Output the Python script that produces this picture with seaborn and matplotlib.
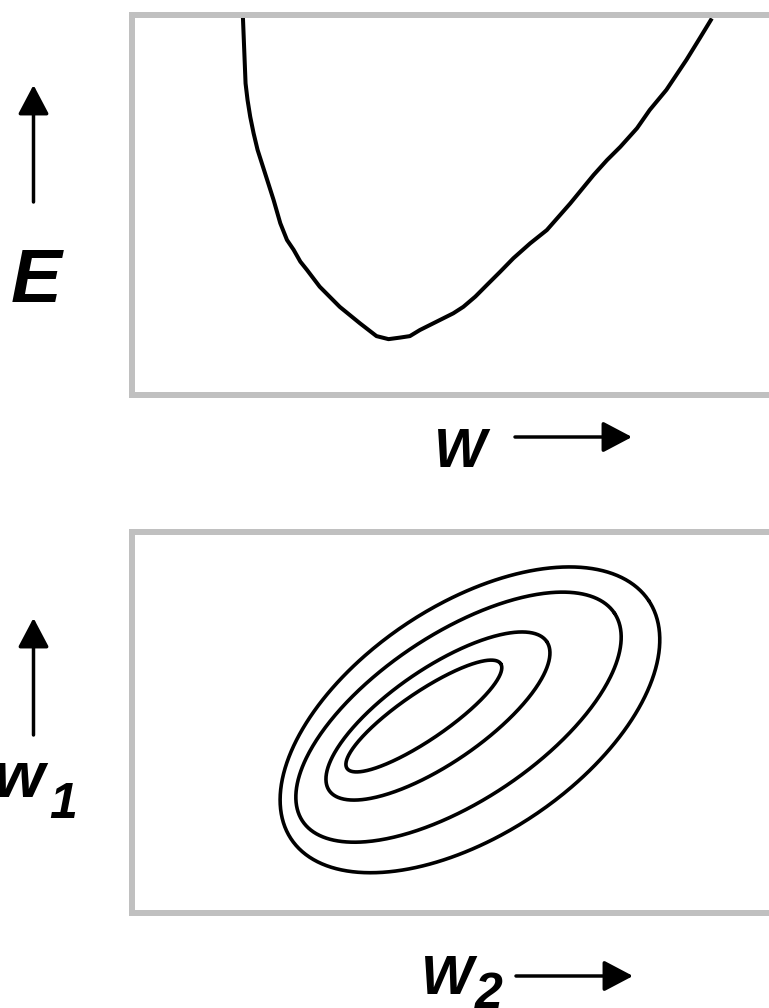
import numpy as np
import pandas as pd
import matplotlib
matplotlib.use("Agg")
import matplotlib.pyplot as plt
from matplotlib.patches import FancyArrowPatch
import seaborn as sns

# Error curve E(w)
w_vals = [1.66, 1.68, 1.70, 1.73, 1.77, 1.82, 1.88, 1.96, 2.04, 2.12,
          2.22, 2.32, 2.42, 2.52, 2.62, 2.81, 3.11, 3.41, 3.66, 3.84,
          4.01, 4.16, 4.31, 4.56, 4.81, 4.96, 5.14, 5.31, 5.51, 5.71,
          5.96, 6.21, 6.41, 6.56, 6.91, 7.11, 7.31, 7.56, 7.75, 8.00,
          8.30, 8.50, 8.68]
E_vals = [9.96, 9.08, 8.20, 7.76, 7.32, 6.89, 6.45, 6.01, 5.57, 5.13,
          4.52, 4.08, 3.82, 3.51, 3.29, 2.85, 2.32, 1.89, 1.55, 1.47,
          1.51, 1.55, 1.71, 1.93, 2.15, 2.32, 2.59, 2.89, 3.24, 3.60,
          3.99, 4.34, 4.74, 5.04, 5.79, 6.18, 6.53, 7.02, 7.50, 8.03,
          8.82, 9.39, 9.91]

# Error contours in the (w2, w1) plane: centre, semi-axes and tilt of each ring
ring_cx = [8.87, 8.57, 8.03, 7.66]
ring_cy = [5.07, 5.14, 5.17, 5.17]
ring_a = [5.64, 4.92, 3.46, 2.44]
ring_b = [3.02, 2.19, 1.24, 0.62]
ring_deg = [33.7, 33.7, 34.4, 34.3]

sns.set_theme(style="white")
plt.rcParams["font.family"] = ["Liberation Sans", "DejaVu Sans"]

W, H = 769, 1008
fig = plt.figure(figsize=(W / 100, H / 100), dpi=100)

def fx(px):
    return px / W

def fy(py):
    return 1 - py / H

frame_color = "#c0c0c0"
frame_lw = 4.3

def style_frame(ax):
    ax.set_xticks([])
    ax.set_yticks([])
    ax.set_xlabel("")
    ax.set_ylabel("")
    for s in ax.spines.values():
        s.set_visible(True)
        s.set_color(frame_color)
        s.set_linewidth(frame_lw)

# top panel: E versus w
ax1 = fig.add_axes([fx(132), fy(395), fx(800) - fx(132), fy(15) - fy(395)])
curve = pd.DataFrame({"w": w_vals, "E": E_vals})
sns.lineplot(data=curve, x="w", y="E", sort=False, estimator=None,
             color="black", linewidth=2.9, ax=ax1)
for ln in ax1.get_lines():
    ln.set_solid_joinstyle("round")
    ln.set_solid_capstyle("butt")
ax1.set_xlim(0, 10)
ax1.set_ylim(0, 10)
style_frame(ax1)

# bottom panel: elliptical contours
ax2 = fig.add_axes([fx(132), fy(913), fx(800) - fx(132), fy(532) - fy(913)])
t = np.linspace(0, 2 * np.pi, 500)
rows = []
for k, (cx, cy, a, b, d) in enumerate(zip(ring_cx, ring_cy, ring_a, ring_b, ring_deg)):
    th = np.deg2rad(d)
    xs = cx + a * np.cos(t) * np.cos(th) - b * np.sin(t) * np.sin(th)
    ys = cy + a * np.cos(t) * np.sin(th) + b * np.sin(t) * np.cos(th)
    rows.append(pd.DataFrame({"w2": xs, "w1": ys, "ring": k}))
rings = pd.concat(rows, ignore_index=True)
sns.lineplot(data=rings, x="w2", y="w1", units="ring", sort=False,
             estimator=None, color="black", linewidth=2.6, ax=ax2)
ax2.set_xlim(0, (800 - 132) / 38.1)
ax2.set_ylim(0, 10)
style_frame(ax2)

# axis labels and direction arrows
lab = dict(fontweight="bold", fontstyle="italic", color="black",
           family=["Liberation Sans", "DejaVu Sans"])

def arrow(p0, p1):
    fig.add_artist(FancyArrowPatch(
        (fx(p0[0]), fy(p0[1])), (fx(p1[0]), fy(p1[1])),
        transform=fig.transFigure,
        arrowstyle="-|>,head_length=18,head_width=9.5",
        mutation_scale=1, linewidth=2.5, color="black",
        shrinkA=0, shrinkB=0))

fig.text(fx(36), fy(302), "E", fontsize=55, ha="center", va="baseline", **lab)
arrow((33.5, 202), (33.5, 85))

fig.text(fx(460), fy(467), "W", fontsize=40, ha="center", va="baseline", **lab)
arrow((515, 437), (632, 437))

fig.text(fx(19), fy(797), "w", fontsize=47, ha="center", va="baseline", **lab)
fig.text(fx(49), fy(818), "1", fontsize=36, ha="left", va="baseline", **lab)
arrow((33.5, 735), (33.5, 618))

fig.text(fx(447), fy(994), "W", fontsize=40, ha="center", va="baseline", **lab)
fig.text(fx(475), fy(1008), "2", fontsize=36, ha="left", va="baseline", **lab)
arrow((516, 976), (633, 976))

fig.savefig("out.png", dpi=100)
